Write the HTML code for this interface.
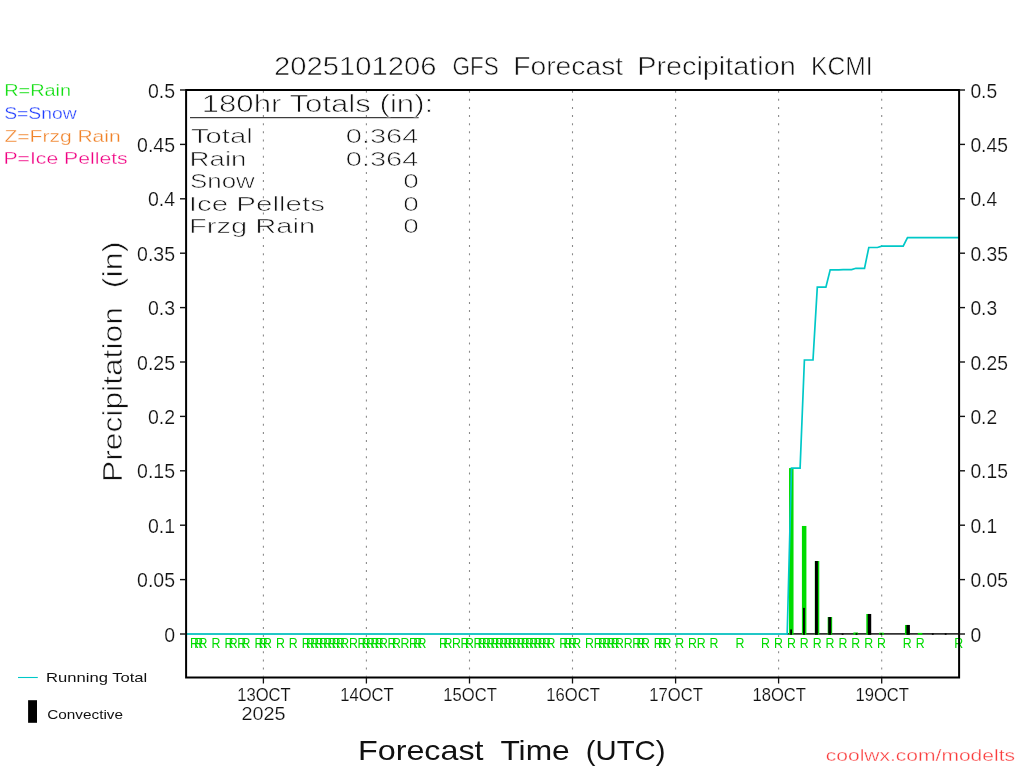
<!DOCTYPE html>
<html lang="en"><head><meta charset="utf-8"><title>2025101206 GFS Forecast Precipitation KCMI</title>
<style>html,body{margin:0;padding:0;background:#fff;}body{width:1024px;height:768px;overflow:hidden;}svg{display:block;will-change:transform;}text{font-family:"Liberation Sans",sans-serif;}</style>
</head><body>
<svg width="1024" height="768" viewBox="0 0 1024 768">
<rect x="0" y="0" width="1024" height="768" fill="#fff"/>
<g stroke="#8a8a8a" stroke-width="1.1" stroke-dasharray="2 6.125" fill="none">
<line x1="263.4" y1="90.7" x2="263.4" y2="676.5"/>
<line x1="366.4" y1="90.7" x2="366.4" y2="676.5"/>
<line x1="469.5" y1="90.7" x2="469.5" y2="676.5"/>
<line x1="572.5" y1="90.7" x2="572.5" y2="676.5"/>
<line x1="675.6" y1="90.7" x2="675.6" y2="676.5"/>
<line x1="778.6" y1="90.7" x2="778.6" y2="676.5"/>
<line x1="881.7" y1="90.7" x2="881.7" y2="676.5"/>
</g>
<line x1="190" y1="117.7" x2="418.6" y2="117.7" stroke="#111" stroke-width="1"/>
<line x1="186" y1="634.0" x2="788" y2="634.0" stroke="#0a8a8f" stroke-width="1.2"/>
<line x1="787" y1="633.9" x2="959" y2="633.9" stroke="#333" stroke-width="1.6"/>
<rect x="789.03" y="468.08" width="4.5" height="166.72" fill="#00dc00"/>
<rect x="790.18" y="629.43" width="1.8" height="5.37" fill="#000"/>
<rect x="801.91" y="525.96" width="4.5" height="108.84" fill="#00dc00"/>
<rect x="803.06" y="607.89" width="1.8" height="26.91" fill="#000"/>
<rect x="814.79" y="561.00" width="4.5" height="73.80" fill="#00dc00"/>
<rect x="814.99" y="561.00" width="2.9" height="73.80" fill="#000"/>
<rect x="827.67" y="617.03" width="4.5" height="17.77" fill="#00dc00"/>
<rect x="828.27" y="617.03" width="2.9" height="17.77" fill="#000"/>
<rect x="841.70" y="633.46" width="1.8" height="1.40" fill="#000"/>
<rect x="853.43" y="632.48" width="4.5" height="2.32" fill="#00dc00"/>
<rect x="855.53" y="633.13" width="1.9" height="1.67" fill="#000"/>
<rect x="866.31" y="613.98" width="4.5" height="20.82" fill="#00dc00"/>
<rect x="867.81" y="613.98" width="3.4" height="20.82" fill="#000"/>
<rect x="879.20" y="632.69" width="4.5" height="2.11" fill="#00dc00"/>
<rect x="880.35" y="633.13" width="1.8" height="1.67" fill="#000"/>
<rect x="904.96" y="624.97" width="4.5" height="9.83" fill="#00dc00"/>
<rect x="906.46" y="624.97" width="3.4" height="9.83" fill="#000"/>
<rect x="917.84" y="632.91" width="4.5" height="1.89" fill="#00dc00"/>
<rect x="931.87" y="633.35" width="1.8" height="1.45" fill="#000"/>
<rect x="944.75" y="633.35" width="1.8" height="1.45" fill="#000"/>
<polyline fill="none" stroke="#00c8c8" stroke-width="1.7" stroke-linejoin="miter" points="186.1,634.0 787.2,634.0 791.5,468.1 800.1,468.1 804.4,360.0 813.0,360.0 817.3,287.1 825.9,287.1 830.2,269.8 838.8,269.8 843.1,269.6 851.6,269.6 855.9,268.3 864.5,268.3 868.8,247.5 877.4,247.5 881.7,246.2 903.2,246.2 907.5,237.6 959.0,237.6"/>
<g font-size="14.2" fill="#00dc00">
<text x="190.1" y="648" textLength="8.92" lengthAdjust="spacingAndGlyphs">R</text>
<text x="194.3" y="648" textLength="8.92" lengthAdjust="spacingAndGlyphs">R</text>
<text x="198.6" y="648" textLength="8.92" lengthAdjust="spacingAndGlyphs">R</text>
<text x="211.5" y="648" textLength="8.92" lengthAdjust="spacingAndGlyphs">R</text>
<text x="224.4" y="648" textLength="8.92" lengthAdjust="spacingAndGlyphs">R</text>
<text x="228.7" y="648" textLength="8.92" lengthAdjust="spacingAndGlyphs">R</text>
<text x="237.3" y="648" textLength="8.92" lengthAdjust="spacingAndGlyphs">R</text>
<text x="241.6" y="648" textLength="8.92" lengthAdjust="spacingAndGlyphs">R</text>
<text x="254.5" y="648" textLength="8.92" lengthAdjust="spacingAndGlyphs">R</text>
<text x="258.8" y="648" textLength="8.92" lengthAdjust="spacingAndGlyphs">R</text>
<text x="263.0" y="648" textLength="8.92" lengthAdjust="spacingAndGlyphs">R</text>
<text x="275.9" y="648" textLength="8.92" lengthAdjust="spacingAndGlyphs">R</text>
<text x="288.8" y="648" textLength="8.92" lengthAdjust="spacingAndGlyphs">R</text>
<text x="301.7" y="648" textLength="8.92" lengthAdjust="spacingAndGlyphs">R</text>
<text x="306.0" y="648" textLength="8.92" lengthAdjust="spacingAndGlyphs">R</text>
<text x="310.3" y="648" textLength="8.92" lengthAdjust="spacingAndGlyphs">R</text>
<text x="314.6" y="648" textLength="8.92" lengthAdjust="spacingAndGlyphs">R</text>
<text x="318.9" y="648" textLength="8.92" lengthAdjust="spacingAndGlyphs">R</text>
<text x="323.2" y="648" textLength="8.92" lengthAdjust="spacingAndGlyphs">R</text>
<text x="327.5" y="648" textLength="8.92" lengthAdjust="spacingAndGlyphs">R</text>
<text x="331.7" y="648" textLength="8.92" lengthAdjust="spacingAndGlyphs">R</text>
<text x="336.0" y="648" textLength="8.92" lengthAdjust="spacingAndGlyphs">R</text>
<text x="340.3" y="648" textLength="8.92" lengthAdjust="spacingAndGlyphs">R</text>
<text x="348.9" y="648" textLength="8.92" lengthAdjust="spacingAndGlyphs">R</text>
<text x="357.5" y="648" textLength="8.92" lengthAdjust="spacingAndGlyphs">R</text>
<text x="361.8" y="648" textLength="8.92" lengthAdjust="spacingAndGlyphs">R</text>
<text x="366.1" y="648" textLength="8.92" lengthAdjust="spacingAndGlyphs">R</text>
<text x="370.4" y="648" textLength="8.92" lengthAdjust="spacingAndGlyphs">R</text>
<text x="374.7" y="648" textLength="8.92" lengthAdjust="spacingAndGlyphs">R</text>
<text x="379.0" y="648" textLength="8.92" lengthAdjust="spacingAndGlyphs">R</text>
<text x="387.6" y="648" textLength="8.92" lengthAdjust="spacingAndGlyphs">R</text>
<text x="391.9" y="648" textLength="8.92" lengthAdjust="spacingAndGlyphs">R</text>
<text x="400.4" y="648" textLength="8.92" lengthAdjust="spacingAndGlyphs">R</text>
<text x="409.0" y="648" textLength="8.92" lengthAdjust="spacingAndGlyphs">R</text>
<text x="413.3" y="648" textLength="8.92" lengthAdjust="spacingAndGlyphs">R</text>
<text x="417.6" y="648" textLength="8.92" lengthAdjust="spacingAndGlyphs">R</text>
<text x="439.1" y="648" textLength="8.92" lengthAdjust="spacingAndGlyphs">R</text>
<text x="443.4" y="648" textLength="8.92" lengthAdjust="spacingAndGlyphs">R</text>
<text x="452.0" y="648" textLength="8.92" lengthAdjust="spacingAndGlyphs">R</text>
<text x="460.6" y="648" textLength="8.92" lengthAdjust="spacingAndGlyphs">R</text>
<text x="464.9" y="648" textLength="8.92" lengthAdjust="spacingAndGlyphs">R</text>
<text x="473.4" y="648" textLength="8.92" lengthAdjust="spacingAndGlyphs">R</text>
<text x="477.7" y="648" textLength="8.92" lengthAdjust="spacingAndGlyphs">R</text>
<text x="482.0" y="648" textLength="8.92" lengthAdjust="spacingAndGlyphs">R</text>
<text x="486.3" y="648" textLength="8.92" lengthAdjust="spacingAndGlyphs">R</text>
<text x="490.6" y="648" textLength="8.92" lengthAdjust="spacingAndGlyphs">R</text>
<text x="494.9" y="648" textLength="8.92" lengthAdjust="spacingAndGlyphs">R</text>
<text x="499.2" y="648" textLength="8.92" lengthAdjust="spacingAndGlyphs">R</text>
<text x="503.5" y="648" textLength="8.92" lengthAdjust="spacingAndGlyphs">R</text>
<text x="507.8" y="648" textLength="8.92" lengthAdjust="spacingAndGlyphs">R</text>
<text x="512.1" y="648" textLength="8.92" lengthAdjust="spacingAndGlyphs">R</text>
<text x="516.4" y="648" textLength="8.92" lengthAdjust="spacingAndGlyphs">R</text>
<text x="520.7" y="648" textLength="8.92" lengthAdjust="spacingAndGlyphs">R</text>
<text x="525.0" y="648" textLength="8.92" lengthAdjust="spacingAndGlyphs">R</text>
<text x="529.3" y="648" textLength="8.92" lengthAdjust="spacingAndGlyphs">R</text>
<text x="533.6" y="648" textLength="8.92" lengthAdjust="spacingAndGlyphs">R</text>
<text x="537.8" y="648" textLength="8.92" lengthAdjust="spacingAndGlyphs">R</text>
<text x="542.1" y="648" textLength="8.92" lengthAdjust="spacingAndGlyphs">R</text>
<text x="546.4" y="648" textLength="8.92" lengthAdjust="spacingAndGlyphs">R</text>
<text x="559.3" y="648" textLength="8.92" lengthAdjust="spacingAndGlyphs">R</text>
<text x="563.6" y="648" textLength="8.92" lengthAdjust="spacingAndGlyphs">R</text>
<text x="567.9" y="648" textLength="8.92" lengthAdjust="spacingAndGlyphs">R</text>
<text x="572.2" y="648" textLength="8.92" lengthAdjust="spacingAndGlyphs">R</text>
<text x="585.1" y="648" textLength="8.92" lengthAdjust="spacingAndGlyphs">R</text>
<text x="593.7" y="648" textLength="8.92" lengthAdjust="spacingAndGlyphs">R</text>
<text x="598.0" y="648" textLength="8.92" lengthAdjust="spacingAndGlyphs">R</text>
<text x="602.3" y="648" textLength="8.92" lengthAdjust="spacingAndGlyphs">R</text>
<text x="606.6" y="648" textLength="8.92" lengthAdjust="spacingAndGlyphs">R</text>
<text x="610.8" y="648" textLength="8.92" lengthAdjust="spacingAndGlyphs">R</text>
<text x="615.1" y="648" textLength="8.92" lengthAdjust="spacingAndGlyphs">R</text>
<text x="623.7" y="648" textLength="8.92" lengthAdjust="spacingAndGlyphs">R</text>
<text x="632.3" y="648" textLength="8.92" lengthAdjust="spacingAndGlyphs">R</text>
<text x="636.6" y="648" textLength="8.92" lengthAdjust="spacingAndGlyphs">R</text>
<text x="640.9" y="648" textLength="8.92" lengthAdjust="spacingAndGlyphs">R</text>
<text x="653.8" y="648" textLength="8.92" lengthAdjust="spacingAndGlyphs">R</text>
<text x="658.1" y="648" textLength="8.92" lengthAdjust="spacingAndGlyphs">R</text>
<text x="662.4" y="648" textLength="8.92" lengthAdjust="spacingAndGlyphs">R</text>
<text x="675.3" y="648" textLength="8.92" lengthAdjust="spacingAndGlyphs">R</text>
<text x="688.1" y="648" textLength="8.92" lengthAdjust="spacingAndGlyphs">R</text>
<text x="696.7" y="648" textLength="8.92" lengthAdjust="spacingAndGlyphs">R</text>
<text x="709.6" y="648" textLength="8.92" lengthAdjust="spacingAndGlyphs">R</text>
<text x="735.4" y="648" textLength="8.92" lengthAdjust="spacingAndGlyphs">R</text>
<text x="761.1" y="648" textLength="8.92" lengthAdjust="spacingAndGlyphs">R</text>
<text x="774.0" y="648" textLength="8.92" lengthAdjust="spacingAndGlyphs">R</text>
<text x="786.9" y="648" textLength="8.92" lengthAdjust="spacingAndGlyphs">R</text>
<text x="799.8" y="648" textLength="8.92" lengthAdjust="spacingAndGlyphs">R</text>
<text x="812.7" y="648" textLength="8.92" lengthAdjust="spacingAndGlyphs">R</text>
<text x="825.5" y="648" textLength="8.92" lengthAdjust="spacingAndGlyphs">R</text>
<text x="838.4" y="648" textLength="8.92" lengthAdjust="spacingAndGlyphs">R</text>
<text x="851.3" y="648" textLength="8.92" lengthAdjust="spacingAndGlyphs">R</text>
<text x="864.2" y="648" textLength="8.92" lengthAdjust="spacingAndGlyphs">R</text>
<text x="877.1" y="648" textLength="8.92" lengthAdjust="spacingAndGlyphs">R</text>
<text x="902.8" y="648" textLength="8.92" lengthAdjust="spacingAndGlyphs">R</text>
<text x="915.7" y="648" textLength="8.92" lengthAdjust="spacingAndGlyphs">R</text>
<text x="954.3" y="648" textLength="8.92" lengthAdjust="spacingAndGlyphs">R</text>
</g>
<rect x="186.1" y="90" width="773" height="587.5" fill="none" stroke="#000" stroke-width="2"/>
<g stroke="#111" stroke-width="1.4">
<line x1="180" y1="634.0" x2="186" y2="634.0"/>
<line x1="959" y1="634.0" x2="965" y2="634.0"/>
<line x1="180" y1="579.6" x2="186" y2="579.6"/>
<line x1="959" y1="579.6" x2="965" y2="579.6"/>
<line x1="180" y1="525.2" x2="186" y2="525.2"/>
<line x1="959" y1="525.2" x2="965" y2="525.2"/>
<line x1="180" y1="470.8" x2="186" y2="470.8"/>
<line x1="959" y1="470.8" x2="965" y2="470.8"/>
<line x1="180" y1="416.4" x2="186" y2="416.4"/>
<line x1="959" y1="416.4" x2="965" y2="416.4"/>
<line x1="180" y1="362.0" x2="186" y2="362.0"/>
<line x1="959" y1="362.0" x2="965" y2="362.0"/>
<line x1="180" y1="307.6" x2="186" y2="307.6"/>
<line x1="959" y1="307.6" x2="965" y2="307.6"/>
<line x1="180" y1="253.2" x2="186" y2="253.2"/>
<line x1="959" y1="253.2" x2="965" y2="253.2"/>
<line x1="180" y1="198.8" x2="186" y2="198.8"/>
<line x1="959" y1="198.8" x2="965" y2="198.8"/>
<line x1="180" y1="144.4" x2="186" y2="144.4"/>
<line x1="959" y1="144.4" x2="965" y2="144.4"/>
<line x1="180" y1="90.0" x2="186" y2="90.0"/>
<line x1="959" y1="90.0" x2="965" y2="90.0"/>
</g>
<text x="175" y="641.5" font-size="19.5" fill="#111" text-anchor="end" stroke="#fff" stroke-width="0.18">0</text>
<text x="970.4" y="641.5" font-size="19.3" fill="#111" stroke="#fff" stroke-width="0.18">0</text>
<text x="175" y="587.1" font-size="19.5" fill="#111" text-anchor="end" stroke="#fff" stroke-width="0.18">0.05</text>
<text x="970.4" y="587.1" font-size="19.3" fill="#111" stroke="#fff" stroke-width="0.18">0.05</text>
<text x="175" y="532.7" font-size="19.5" fill="#111" text-anchor="end" stroke="#fff" stroke-width="0.18">0.1</text>
<text x="970.4" y="532.7" font-size="19.3" fill="#111" stroke="#fff" stroke-width="0.18">0.1</text>
<text x="175" y="478.3" font-size="19.5" fill="#111" text-anchor="end" stroke="#fff" stroke-width="0.18">0.15</text>
<text x="970.4" y="478.3" font-size="19.3" fill="#111" stroke="#fff" stroke-width="0.18">0.15</text>
<text x="175" y="423.9" font-size="19.5" fill="#111" text-anchor="end" stroke="#fff" stroke-width="0.18">0.2</text>
<text x="970.4" y="423.9" font-size="19.3" fill="#111" stroke="#fff" stroke-width="0.18">0.2</text>
<text x="175" y="369.5" font-size="19.5" fill="#111" text-anchor="end" stroke="#fff" stroke-width="0.18">0.25</text>
<text x="970.4" y="369.5" font-size="19.3" fill="#111" stroke="#fff" stroke-width="0.18">0.25</text>
<text x="175" y="315.1" font-size="19.5" fill="#111" text-anchor="end" stroke="#fff" stroke-width="0.18">0.3</text>
<text x="970.4" y="315.1" font-size="19.3" fill="#111" stroke="#fff" stroke-width="0.18">0.3</text>
<text x="175" y="260.7" font-size="19.5" fill="#111" text-anchor="end" stroke="#fff" stroke-width="0.18">0.35</text>
<text x="970.4" y="260.7" font-size="19.3" fill="#111" stroke="#fff" stroke-width="0.18">0.35</text>
<text x="175" y="206.3" font-size="19.5" fill="#111" text-anchor="end" stroke="#fff" stroke-width="0.18">0.4</text>
<text x="970.4" y="206.3" font-size="19.3" fill="#111" stroke="#fff" stroke-width="0.18">0.4</text>
<text x="175" y="151.9" font-size="19.5" fill="#111" text-anchor="end" stroke="#fff" stroke-width="0.18">0.45</text>
<text x="970.4" y="151.9" font-size="19.3" fill="#111" stroke="#fff" stroke-width="0.18">0.45</text>
<text x="175" y="97.5" font-size="19.5" fill="#111" text-anchor="end" stroke="#fff" stroke-width="0.18">0.5</text>
<text x="970.4" y="97.5" font-size="19.3" fill="#111" stroke="#fff" stroke-width="0.18">0.5</text>
<g stroke="#111" stroke-width="1.3">
<line x1="263.4" y1="678" x2="263.4" y2="683.5"/>
<line x1="366.4" y1="678" x2="366.4" y2="683.5"/>
<line x1="469.5" y1="678" x2="469.5" y2="683.5"/>
<line x1="572.5" y1="678" x2="572.5" y2="683.5"/>
<line x1="675.6" y1="678" x2="675.6" y2="683.5"/>
<line x1="778.6" y1="678" x2="778.6" y2="683.5"/>
<line x1="881.7" y1="678" x2="881.7" y2="683.5"/>
</g>
<text x="274.00" y="75" font-size="26.5" fill="#111" textLength="162.38" lengthAdjust="spacingAndGlyphs" stroke="#fff" stroke-width="0.6">2025101206</text>
<text x="452.42" y="75" font-size="26.5" fill="#111" textLength="46.34" lengthAdjust="spacingAndGlyphs" stroke="#fff" stroke-width="0.6">GFS</text>
<text x="513.20" y="75" font-size="26.5" fill="#111" textLength="109.97" lengthAdjust="spacingAndGlyphs" stroke="#fff" stroke-width="0.6">Forecast</text>
<text x="637.17" y="75" font-size="26.5" fill="#111" textLength="158.60" lengthAdjust="spacingAndGlyphs" stroke="#fff" stroke-width="0.6">Precipitation</text>
<text x="810.99" y="75" font-size="26.5" fill="#111" textLength="61.55" lengthAdjust="spacingAndGlyphs" stroke="#fff" stroke-width="0.6">KCMI</text>
<text x="201.70" y="112.1" font-size="23" fill="#111" textLength="231.52" lengthAdjust="spacingAndGlyphs" stroke="#fff" stroke-width="0.65">180hr Totals (in):</text>
<text x="190.97" y="143.4" font-size="21" fill="#111" textLength="61.77" lengthAdjust="spacingAndGlyphs" stroke="#fff" stroke-width="0.6">Total</text>
<text x="345.68" y="143.4" font-size="21" fill="#111" textLength="72.84" lengthAdjust="spacingAndGlyphs" stroke="#fff" stroke-width="0.6">0.364</text>
<text x="189.56" y="165.5" font-size="21" fill="#111" textLength="56.88" lengthAdjust="spacingAndGlyphs" stroke="#fff" stroke-width="0.6">Rain</text>
<text x="345.68" y="165.5" font-size="21" fill="#111" textLength="72.84" lengthAdjust="spacingAndGlyphs" stroke="#fff" stroke-width="0.6">0.364</text>
<text x="190.05" y="188.3" font-size="21" fill="#111" textLength="64.72" lengthAdjust="spacingAndGlyphs" stroke="#fff" stroke-width="0.6">Snow</text>
<text x="403.19" y="188.3" font-size="21" fill="#111" textLength="15.53" lengthAdjust="spacingAndGlyphs" stroke="#fff" stroke-width="0.6">0</text>
<text x="188.85" y="211" font-size="21" fill="#111" textLength="136.06" lengthAdjust="spacingAndGlyphs" stroke="#fff" stroke-width="0.6">Ice Pellets</text>
<text x="403.19" y="211" font-size="21" fill="#111" textLength="15.53" lengthAdjust="spacingAndGlyphs" stroke="#fff" stroke-width="0.6">0</text>
<text x="189.07" y="233.3" font-size="21" fill="#111" textLength="126.16" lengthAdjust="spacingAndGlyphs" stroke="#fff" stroke-width="0.6">Frzg Rain</text>
<text x="403.19" y="233.3" font-size="21" fill="#111" textLength="15.53" lengthAdjust="spacingAndGlyphs" stroke="#fff" stroke-width="0.6">0</text>
<text x="237.17" y="700.6" font-size="18" fill="#111" textLength="53.56" lengthAdjust="spacingAndGlyphs" stroke="#fff" stroke-width="0.15">13OCT</text>
<text x="340.22" y="700.6" font-size="18" fill="#111" textLength="53.56" lengthAdjust="spacingAndGlyphs" stroke="#fff" stroke-width="0.15">14OCT</text>
<text x="443.27" y="700.6" font-size="18" fill="#111" textLength="53.56" lengthAdjust="spacingAndGlyphs" stroke="#fff" stroke-width="0.15">15OCT</text>
<text x="546.32" y="700.6" font-size="18" fill="#111" textLength="53.56" lengthAdjust="spacingAndGlyphs" stroke="#fff" stroke-width="0.15">16OCT</text>
<text x="649.37" y="700.6" font-size="18" fill="#111" textLength="53.56" lengthAdjust="spacingAndGlyphs" stroke="#fff" stroke-width="0.15">17OCT</text>
<text x="752.42" y="700.6" font-size="18" fill="#111" textLength="53.56" lengthAdjust="spacingAndGlyphs" stroke="#fff" stroke-width="0.15">18OCT</text>
<text x="855.47" y="700.6" font-size="18" fill="#111" textLength="53.56" lengthAdjust="spacingAndGlyphs" stroke="#fff" stroke-width="0.15">19OCT</text>
<text x="241.40" y="720" font-size="18.6" fill="#111" textLength="44.11" lengthAdjust="spacingAndGlyphs" stroke="#fff" stroke-width="0.2">2025</text>
<text x="357.94" y="759.9" font-size="28" fill="#111" textLength="125.66" lengthAdjust="spacingAndGlyphs">Forecast</text>
<text x="500.41" y="759.9" font-size="28" fill="#111" textLength="69.25" lengthAdjust="spacingAndGlyphs">Time</text>
<text x="585.84" y="759.9" font-size="28" fill="#111" textLength="79.65" lengthAdjust="spacingAndGlyphs">(UTC)</text>
<text x="4.15" y="96.2" font-size="16" fill="#00dc00" textLength="66.97" lengthAdjust="spacingAndGlyphs" stroke="#fff" stroke-width="0.3">R=Rain</text>
<text x="4.19" y="118.75" font-size="16" fill="#1e3cff" textLength="72.55" lengthAdjust="spacingAndGlyphs" stroke="#fff" stroke-width="0.3">S=Snow</text>
<text x="4.49" y="141.6" font-size="16" fill="#f08228" textLength="116.17" lengthAdjust="spacingAndGlyphs" stroke="#fff" stroke-width="0.3">Z=Frzg Rain</text>
<text x="3.45" y="163.9" font-size="16" fill="#f00082" textLength="124.28" lengthAdjust="spacingAndGlyphs" stroke="#fff" stroke-width="0.3">P=Ice Pellets</text>
<text x="46.09" y="682.3" font-size="12.8" fill="#111" textLength="101.21" lengthAdjust="spacingAndGlyphs">Running Total</text>
<text x="47.24" y="718.6" font-size="12.8" fill="#111" textLength="75.81" lengthAdjust="spacingAndGlyphs">Convective</text>
<text x="825.81" y="760.5" font-size="16" fill="#fa3c3c" textLength="189.19" lengthAdjust="spacingAndGlyphs" stroke="#fff" stroke-width="0.3">coolwx.com/modelts</text>
<g transform="translate(122.4,479) rotate(-90)">
<text x="-2.95" y="0" font-size="27" fill="#111" textLength="174.78" lengthAdjust="spacingAndGlyphs" stroke="#fff" stroke-width="0.6">Precipitation</text>
<text x="190.81" y="0" font-size="27" fill="#111" textLength="46.73" lengthAdjust="spacingAndGlyphs" stroke="#fff" stroke-width="0.6">(in)</text>
</g>
<line x1="18" y1="677.5" x2="37.8" y2="677.5" stroke="#00c8c8" stroke-width="1.1"/>
<rect x="28.1" y="700.2" width="8.9" height="22.6" fill="#000"/>
</svg></body></html>
